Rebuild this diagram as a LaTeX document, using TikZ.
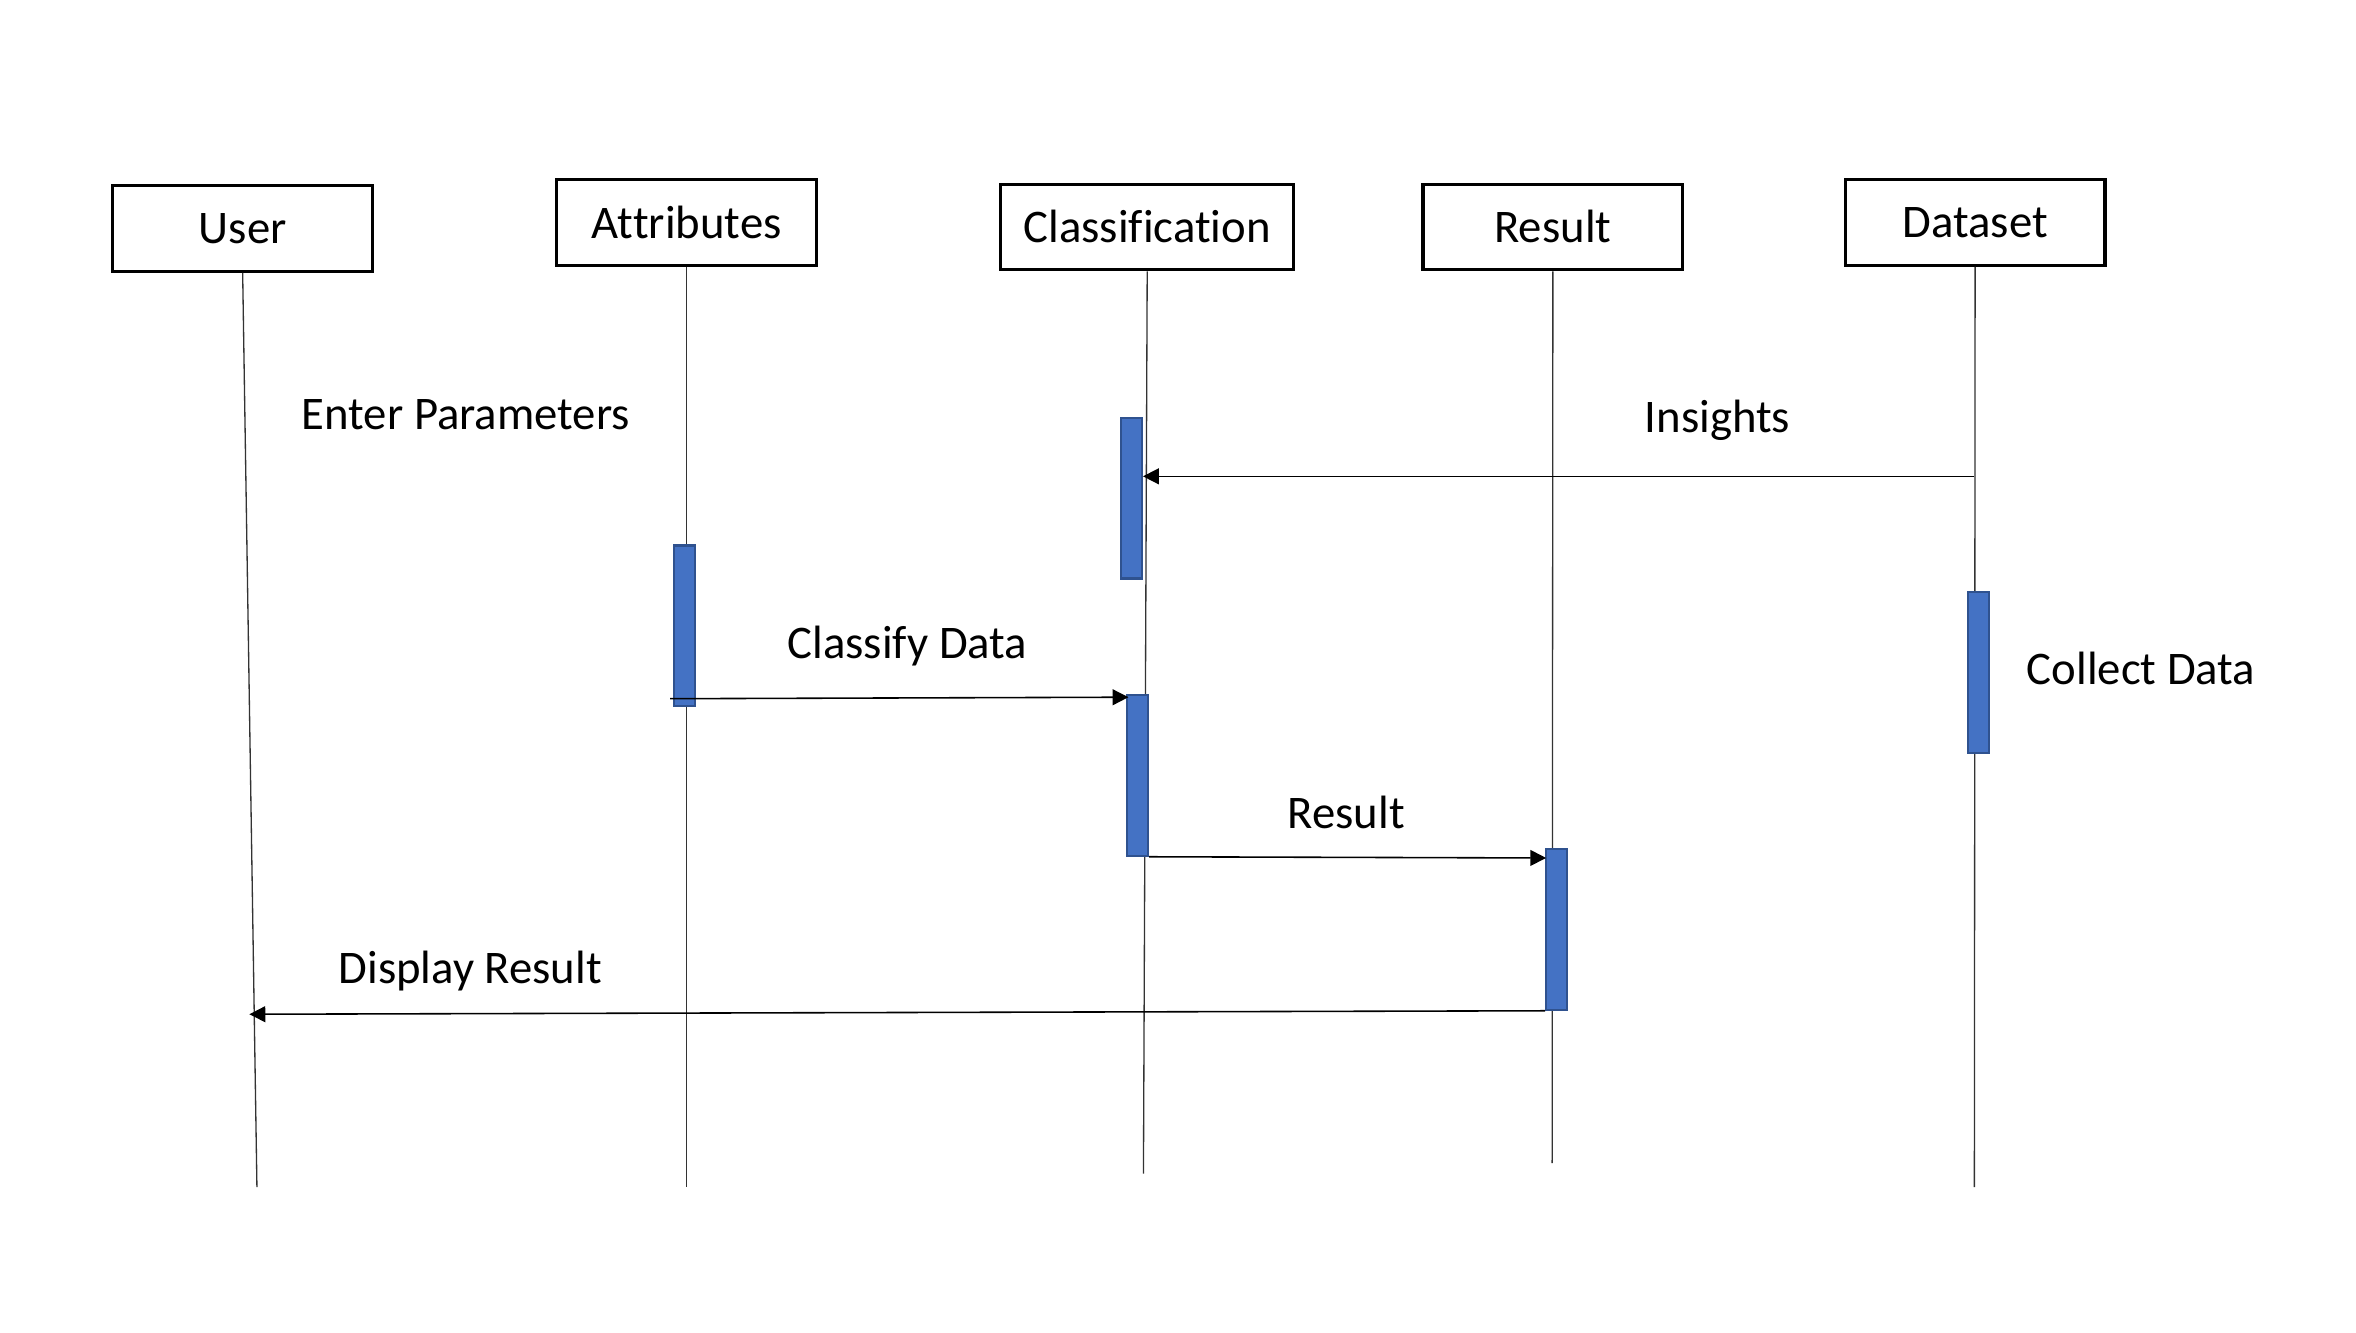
\documentclass[tikz,border=0pt]{standalone}
\usepackage{fontspec}
\setmainfont[RawFeature={-liga,-clig,-calt,-dlig}]{Carlito}
\usetikzlibrary{arrows.meta}
\definecolor{barblue}{HTML}{4472C4}
\definecolor{baredge}{HTML}{2F528F}
\newcommand{\nl}{\kern0pt }
\begin{document}
\begin{tikzpicture}[x=0.02cm,y=-0.02cm,
  actor/.style={draw=black,line width=1.2pt,fill=white,minimum width=3.46cm,minimum height=1.14cm,inner sep=0pt,font=\fontsize{17.7}{21}\selectfont},
  lifeline/.style={draw=black!80,line width=0.5pt},
  actbar/.style={draw=baredge,line width=0.8pt,fill=barblue,minimum width=0.28cm,minimum height=2.14cm,inner sep=0pt},
  msg/.style={draw=black,line width=0.6pt,-{Triangle[length=6pt,width=6pt]}},
  lbl/.style={font=\fontsize{17.7}{21}\selectfont,inner sep=0pt}]
\useasboundingbox (0,0) rectangle (1568,887);
% actors
\node[actor] (user) at (161.5,152) {User};
\node[actor] (attr) at (457,148) {At\nl t\nl ributes};
\node[actor,minimum width=3.9cm] (cls) at (763.5,151) {Classif\nl icat\nl ion};
\node[actor] (res) at (1033.5,151) {Result};
\node[actor] (data) at (1314.5,148) {Dataset};
% lifeline ends
\coordinate (userEnd) at (171,790);
\coordinate (attrEnd) at (457,790);
\coordinate (clsEnd) at (761,781);
\coordinate (resEnd) at (1033,774);
\coordinate (dataEnd) at (1314,790);
\draw[lifeline] (user.south) -- (userEnd);
\draw[lifeline] (attr.south) -- (attrEnd);
\draw[lifeline] (cls.south) -- (clsEnd);
\draw[lifeline] (res.south) -- (resEnd);
\draw[lifeline] (data.south) -- (dataEnd);
% activation bars
\node[actbar] (cbar1) at (753,331.5) {};
\node[actbar] (abar) at (455.5,416.5) {};
\node[actbar] (cbar2) at (757,516) {};
\node[actbar] (dbar) at (1316.5,447.5) {};
\node[actbar] (rbar) at (1036,618.5) {};
% message anchors
\coordinate (insStart) at (1314,317);
\coordinate (cdStart) at (446,465);
\coordinate (cdEnd) at (751,464);
\coordinate (resArr) at (1029,571);
\coordinate (dispEnd) at (166,675);
% messages
\draw[msg] (insStart) -- (cbar1.east |- insStart);
\draw[msg] (cdStart) -- (cdEnd);
\draw[msg] (cbar2.south east) -- (resArr);
\draw[msg] (rbar.south west) -- (dispEnd);
% labels
\node[lbl] (lEnter) at (310,276) {Enter Parameters};
\node[lbl] (lIns) at (1143,280) {Insights};
\node[lbl] (lCd) at (604,430) {Classify Data};
\node[lbl] (lCol) at (1425,445) {Collect Data};
\node[lbl] (lRes) at (896,541) {Result};
\node[lbl] (lDisp) at (313,646) {Display Result};
\end{tikzpicture}
\end{document}
